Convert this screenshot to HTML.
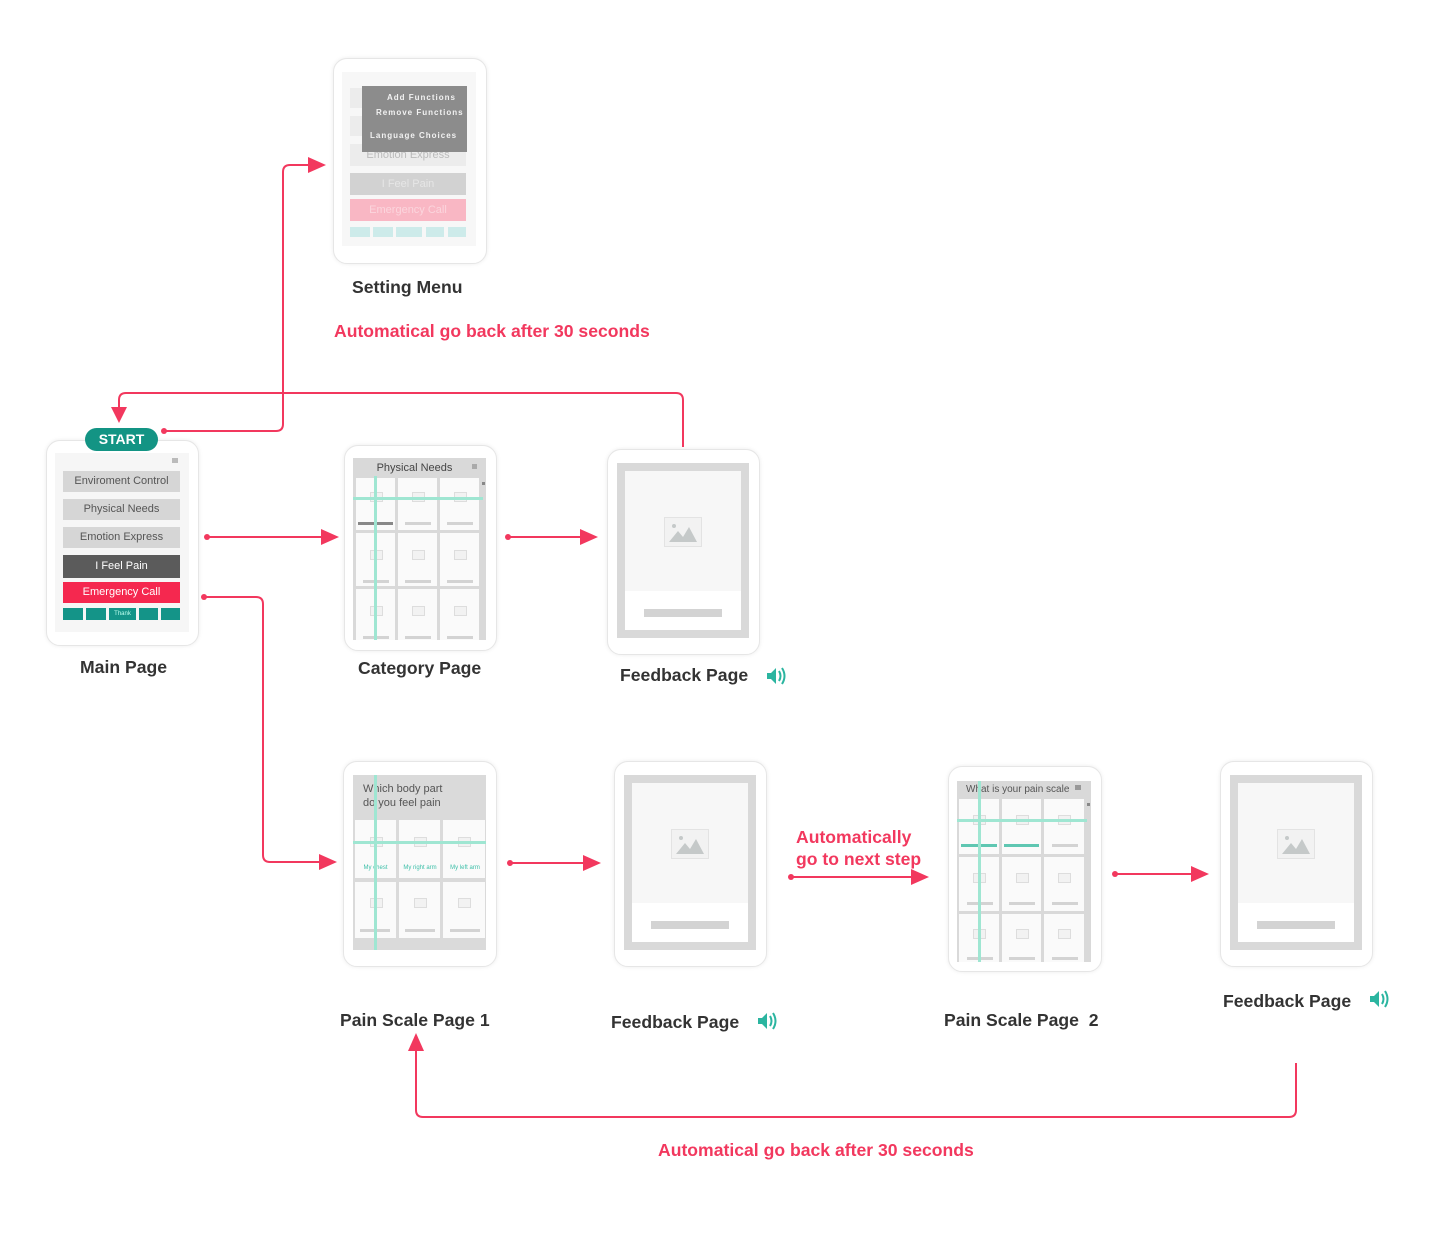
<!DOCTYPE html>
<html><head><meta charset="utf-8"><style>
body{margin:0;width:1440px;height:1250px;background:#fff;position:relative;overflow:hidden;font-family:"Liberation Sans",sans-serif}
.a{position:absolute}
.dev{position:absolute;background:#fff;border:1px solid #e6e6e6;border-radius:14px;box-shadow:0 0 4px rgba(0,0,0,.08)}
.lbl{position:absolute;font-weight:bold;font-size:17.6px;color:#333;white-space:nowrap}
.red{position:absolute;font-weight:bold;font-size:17.6px;color:#f2385e;white-space:nowrap}
.btn{position:absolute;left:63px;width:117px;height:21px;font-size:11px;text-align:center;line-height:21px}
.cell{position:absolute;background:#fafafa}
.img{position:absolute;width:11px;height:8px;border:1px solid #ddd;background:#f2f2f2}
.bar{position:absolute;height:3px;background:#d3d3d3}
.tl{position:absolute;background:#9fe6d2}
</style></head><body>

<!-- Setting menu -->
<div class="dev" style="left:333px;top:58px;width:152px;height:204px"></div>
<div class="a" style="left:342px;top:72px;width:134px;height:174px;background:#f7f7f7"></div>
<div class="a" style="left:350px;top:88px;width:116px;height:20px;background:#ececec"></div>
<div class="a" style="left:350px;top:116px;width:116px;height:20px;background:#ececec"></div>
<div class="a" style="left:350px;top:144px;width:116px;height:22px;background:#ececec;color:#bbb;font-size:11px;text-align:center;line-height:22px">Emotion Express</div>
<div class="a" style="left:350px;top:173px;width:116px;height:22px;background:#d2d2d2;color:#e6e6e6;font-size:11px;text-align:center;line-height:22px">I Feel Pain</div>
<div class="a" style="left:350px;top:199px;width:116px;height:22px;background:#f9b7c4;color:#fbd5dd;font-size:11px;text-align:center;line-height:22px">Emergency Call</div>
<div class="a" style="left:350px;top:227px;width:20px;height:10px;background:#cdebea"></div>
<div class="a" style="left:373px;top:227px;width:20px;height:10px;background:#cdebea"></div>
<div class="a" style="left:396px;top:227px;width:26px;height:10px;background:#cdebea"></div>
<div class="a" style="left:426px;top:227px;width:18px;height:10px;background:#cdebea"></div>
<div class="a" style="left:448px;top:227px;width:18px;height:10px;background:#cdebea"></div>
<div class="a" style="left:362px;top:86px;width:105px;height:66px;background:#8c8c8c;color:#f2f2f2;font-size:8px;font-weight:bold;letter-spacing:1px">
<div class="a" style="left:25px;top:7px">Add Functions</div>
<div class="a" style="left:14px;top:22px">Remove Functions</div>
<div class="a" style="left:8px;top:45px">Language Choices</div></div>
<div class="lbl" style="left:352px;top:277px">Setting Menu</div>
<div class="red" style="left:334px;top:321px">Automatical go back after 30 seconds</div>

<!-- Main page -->
<div class="dev" style="left:46px;top:440px;width:151px;height:204px"></div>
<div class="a" style="left:55px;top:453px;width:134px;height:179px;background:#f6f6f6"></div>
<div class="a" style="left:172px;top:458px;width:6px;height:5px;background:#bbb"></div>
<div class="btn" style="top:471px;background:#d6d6d6;color:#555">Enviroment Control</div>
<div class="btn" style="top:499px;background:#d6d6d6;color:#555">Physical Needs</div>
<div class="btn" style="top:527px;background:#d6d6d6;color:#555">Emotion Express</div>
<div class="btn" style="top:555px;height:23px;line-height:23px;background:#5b5b5b;color:#fff">I Feel Pain</div>
<div class="btn" style="top:582px;background:#f5284f;color:#fff">Emergency Call</div>
<div class="a" style="left:63px;top:608px;width:20px;height:12px;background:#149488"></div>
<div class="a" style="left:86px;top:608px;width:20px;height:12px;background:#149488"></div>
<div class="a" style="left:109px;top:608px;width:27px;height:12px;background:#149488;color:#bfe;font-size:6px;text-align:center;line-height:12px">Thank</div>
<div class="a" style="left:139px;top:608px;width:19px;height:12px;background:#149488"></div>
<div class="a" style="left:161px;top:608px;width:19px;height:12px;background:#149488"></div>
<div class="a" style="left:85px;top:428px;width:73px;height:23px;border-radius:12px;background:#139484;color:#fff;font-weight:bold;font-size:14px;text-align:center;line-height:23px">START</div>
<div class="lbl" style="left:80px;top:657px">Main Page</div>

<!-- Category page -->
<div class="dev" style="left:344px;top:445px;width:151px;height:204px"></div>
<div class="a" style="left:353px;top:458px;width:133px;height:182px;background:#d9d9d9"></div>
<div class="a" style="left:353px;top:460px;width:123px;height:16px;color:#444;font-size:11px;text-align:center;line-height:16px">Physical Needs</div>
<div class="a" style="left:472px;top:464px;width:5px;height:5px;background:#aaa"></div>
<div class="cell" style="left:356px;top:478px;width:39px;height:52px"></div>
<div class="cell" style="left:398px;top:478px;width:39px;height:52px"></div>
<div class="cell" style="left:440px;top:478px;width:39px;height:52px"></div>
<div class="cell" style="left:356px;top:533px;width:39px;height:53px"></div>
<div class="cell" style="left:398px;top:533px;width:39px;height:53px"></div>
<div class="cell" style="left:440px;top:533px;width:39px;height:53px"></div>
<div class="cell" style="left:356px;top:589px;width:39px;height:51px"></div>
<div class="cell" style="left:398px;top:589px;width:39px;height:51px"></div>
<div class="cell" style="left:440px;top:589px;width:39px;height:51px"></div>
<div class="img" style="left:370px;top:492px"></div><div class="img" style="left:412px;top:492px"></div><div class="img" style="left:454px;top:492px"></div>
<div class="img" style="left:370px;top:550px"></div><div class="img" style="left:412px;top:550px"></div><div class="img" style="left:454px;top:550px"></div>
<div class="img" style="left:370px;top:606px"></div><div class="img" style="left:412px;top:606px"></div><div class="img" style="left:454px;top:606px"></div>
<div class="bar" style="left:358px;top:522px;width:35px;background:#888"></div><div class="bar" style="left:405px;top:522px;width:26px"></div><div class="bar" style="left:447px;top:522px;width:26px"></div>
<div class="bar" style="left:363px;top:580px;width:26px"></div><div class="bar" style="left:405px;top:580px;width:26px"></div><div class="bar" style="left:447px;top:580px;width:26px"></div>
<div class="bar" style="left:363px;top:636px;width:26px"></div><div class="bar" style="left:405px;top:636px;width:26px"></div><div class="bar" style="left:447px;top:636px;width:26px"></div>
<div class="tl" style="left:374px;top:476px;width:3px;height:164px"></div>
<div class="tl" style="left:353px;top:497px;width:130px;height:3px"></div>
<div class="a" style="left:482px;top:482px;width:3px;height:3px;background:#888"></div>
<div class="lbl" style="left:358px;top:658px">Category Page</div>

<!-- Feedback template -->
<div class="dev" style="left:607px;top:449px;width:151px;height:204px"></div>
<div class="a" style="left:617px;top:463px;width:116px;height:159px;border:8px solid #d9d9d9;background:#fff"></div>
<div class="a" style="left:625px;top:471px;width:116px;height:120px;background:#f7f7f7"></div>
<div class="a" style="left:664px;top:517px;width:36px;height:28px;border:1px solid #e3e3e3;background:#f2f2f2"></div>
<svg class="a" style="left:668px;top:523px" width="30" height="20"><circle cx="6" cy="3" r="2" fill="#c5c9c9"/><polygon points="1,19 10,8 15,14 21,4 29,19" fill="#c5c9c9"/></svg>
<div class="a" style="left:644px;top:609px;width:78px;height:8px;background:#d3d3d3"></div>
<div class="lbl" style="left:620px;top:665px">Feedback Page</div>

<div class="dev" style="left:614px;top:761px;width:151px;height:204px"></div>
<div class="a" style="left:624px;top:775px;width:116px;height:159px;border:8px solid #d9d9d9;background:#fff"></div>
<div class="a" style="left:632px;top:783px;width:116px;height:120px;background:#f7f7f7"></div>
<div class="a" style="left:671px;top:829px;width:36px;height:28px;border:1px solid #e3e3e3;background:#f2f2f2"></div>
<svg class="a" style="left:675px;top:835px" width="30" height="20"><circle cx="6" cy="3" r="2" fill="#c5c9c9"/><polygon points="1,19 10,8 15,14 21,4 29,19" fill="#c5c9c9"/></svg>
<div class="a" style="left:651px;top:921px;width:78px;height:8px;background:#d3d3d3"></div>
<div class="lbl" style="left:611px;top:1012px">Feedback Page</div>

<div class="dev" style="left:1220px;top:761px;width:151px;height:204px"></div>
<div class="a" style="left:1230px;top:775px;width:116px;height:159px;border:8px solid #d9d9d9;background:#fff"></div>
<div class="a" style="left:1238px;top:783px;width:116px;height:120px;background:#f7f7f7"></div>
<div class="a" style="left:1277px;top:829px;width:36px;height:28px;border:1px solid #e3e3e3;background:#f2f2f2"></div>
<svg class="a" style="left:1281px;top:835px" width="30" height="20"><circle cx="6" cy="3" r="2" fill="#c5c9c9"/><polygon points="1,19 10,8 15,14 21,4 29,19" fill="#c5c9c9"/></svg>
<div class="a" style="left:1257px;top:921px;width:78px;height:8px;background:#d3d3d3"></div>
<div class="lbl" style="left:1223px;top:991px">Feedback Page</div>

<!-- Pain scale 1 -->
<div class="dev" style="left:343px;top:761px;width:152px;height:204px"></div>
<div class="a" style="left:353px;top:775px;width:133px;height:175px;background:#dadada"></div>
<div class="a" style="left:363px;top:782px;color:#555;font-size:11px;line-height:14px">Which body part<br>do you feel pain</div>
<div class="cell" style="left:355px;top:820px;width:41px;height:58px"></div>
<div class="cell" style="left:399px;top:820px;width:41px;height:58px"></div>
<div class="cell" style="left:443px;top:820px;width:42px;height:58px"></div>
<div class="cell" style="left:355px;top:882px;width:41px;height:56px"></div>
<div class="cell" style="left:399px;top:882px;width:41px;height:56px"></div>
<div class="cell" style="left:443px;top:882px;width:42px;height:56px"></div>
<div class="img" style="left:370px;top:837px"></div><div class="img" style="left:414px;top:837px"></div><div class="img" style="left:458px;top:837px"></div>
<div class="img" style="left:370px;top:898px"></div><div class="img" style="left:414px;top:898px"></div><div class="img" style="left:458px;top:898px"></div>
<div class="a" style="left:355px;top:865px;width:41px;font-size:6px;color:#3cbfa8;text-align:center">My chest</div>
<div class="a" style="left:399px;top:865px;width:42px;font-size:6px;color:#3cbfa8;text-align:center">My right arm</div>
<div class="a" style="left:443px;top:865px;width:44px;font-size:6px;color:#3cbfa8;text-align:center">My left arm</div>
<div class="bar" style="left:360px;top:929px;width:30px"></div><div class="bar" style="left:405px;top:929px;width:30px"></div><div class="bar" style="left:450px;top:929px;width:30px"></div>
<div class="tl" style="left:374px;top:775px;width:3px;height:175px"></div>
<div class="tl" style="left:353px;top:841px;width:133px;height:3px"></div>
<div class="lbl" style="left:340px;top:1010px">Pain Scale Page 1</div>

<!-- Pain scale 2 -->
<div class="dev" style="left:948px;top:766px;width:152px;height:204px"></div>
<div class="a" style="left:957px;top:781px;width:134px;height:181px;background:#d9d9d9"></div>
<div class="a" style="left:966px;top:783px;color:#555;font-size:10px;line-height:14px">What is your pain scale</div>
<div class="a" style="left:1075px;top:785px;width:6px;height:5px;background:#999"></div>
<div class="cell" style="left:959px;top:799px;width:40px;height:55px"></div>
<div class="cell" style="left:1002px;top:799px;width:39px;height:55px"></div>
<div class="cell" style="left:1044px;top:799px;width:40px;height:55px"></div>
<div class="cell" style="left:959px;top:857px;width:40px;height:54px"></div>
<div class="cell" style="left:1002px;top:857px;width:39px;height:54px"></div>
<div class="cell" style="left:1044px;top:857px;width:40px;height:54px"></div>
<div class="cell" style="left:959px;top:914px;width:40px;height:48px"></div>
<div class="cell" style="left:1002px;top:914px;width:39px;height:48px"></div>
<div class="cell" style="left:1044px;top:914px;width:40px;height:48px"></div>
<div class="img" style="left:973px;top:815px"></div><div class="img" style="left:1016px;top:815px"></div><div class="img" style="left:1058px;top:815px"></div>
<div class="img" style="left:973px;top:873px"></div><div class="img" style="left:1016px;top:873px"></div><div class="img" style="left:1058px;top:873px"></div>
<div class="img" style="left:973px;top:929px"></div><div class="img" style="left:1016px;top:929px"></div><div class="img" style="left:1058px;top:929px"></div>
<div class="bar" style="left:961px;top:844px;width:36px;background:#5fc7b2"></div><div class="bar" style="left:1004px;top:844px;width:35px;background:#5fc7b2"></div><div class="bar" style="left:1052px;top:844px;width:26px"></div>
<div class="bar" style="left:967px;top:902px;width:26px"></div><div class="bar" style="left:1009px;top:902px;width:26px"></div><div class="bar" style="left:1052px;top:902px;width:26px"></div>
<div class="bar" style="left:967px;top:957px;width:26px"></div><div class="bar" style="left:1009px;top:957px;width:26px"></div><div class="bar" style="left:1052px;top:957px;width:26px"></div>
<div class="tl" style="left:978px;top:781px;width:3px;height:181px"></div>
<div class="tl" style="left:957px;top:819px;width:130px;height:3px"></div>
<div class="a" style="left:1087px;top:803px;width:3px;height:3px;background:#888"></div>
<div class="lbl" style="left:944px;top:1010px">Pain Scale Page&nbsp; 2</div>

<div class="red" style="left:796px;top:826px;line-height:22px">Automatically<br>go to next step</div>
<div class="red" style="left:658px;top:1140px">Automatical go back after 30 seconds</div>

<svg class="a" style="left:0;top:0" width="1440" height="1250">
<defs><g id="spk"><polygon points="0,5 4,5 9,0 9,16 4,11 0,11" fill="#2bb5a0"/><path d="M12,3 Q15,8 12,13 M15,0 Q20,8 15,16" stroke="#2bb5a0" stroke-width="2" fill="none"/></g></defs>
<use href="#spk" x="767" y="668"/>
<use href="#spk" x="758" y="1013"/>
<use href="#spk" x="1370" y="991"/>
<g stroke="#f2385e" stroke-width="2" fill="none">
<path d="M164,431 H276 Q283,431 283,424 V172 Q283,165 290,165 H315"/>
<path d="M683,447 V400 Q683,393 676,393 H126 Q119,393 119,400 V412"/>
<path d="M207,537 H326"/>
<path d="M508,537 H585"/>
<path d="M204,597 H256 Q263,597 263,604 V855 Q263,862 270,862 H324"/>
<path d="M510,863 H588"/>
<path d="M791,877 H916"/>
<path d="M1115,874 H1196"/>
<path d="M1296,1063 V1110 Q1296,1117 1289,1117 H423 Q416,1117 416,1110 V1046"/>
</g>
<g fill="#f2385e">
<circle cx="164" cy="431" r="3"/><circle cx="207" cy="537" r="3"/><circle cx="508" cy="537" r="3"/>
<circle cx="204" cy="597" r="3"/><circle cx="510" cy="863" r="3"/><circle cx="791" cy="877" r="3"/><circle cx="1115" cy="874" r="3"/>
<polygon points="326,165 308,157 308,173"/>
<polygon points="119,423 111,407 127,407"/>
<polygon points="339,537 321,529 321,545"/>
<polygon points="598,537 580,529 580,545"/>
<polygon points="337,862 319,854 319,870"/>
<polygon points="601,863 583,855 583,871"/>
<polygon points="929,877 911,869 911,885"/>
<polygon points="1209,874 1191,866 1191,882"/>
<polygon points="416,1033 408,1051 424,1051"/>
</g>
</svg>
</body></html>
